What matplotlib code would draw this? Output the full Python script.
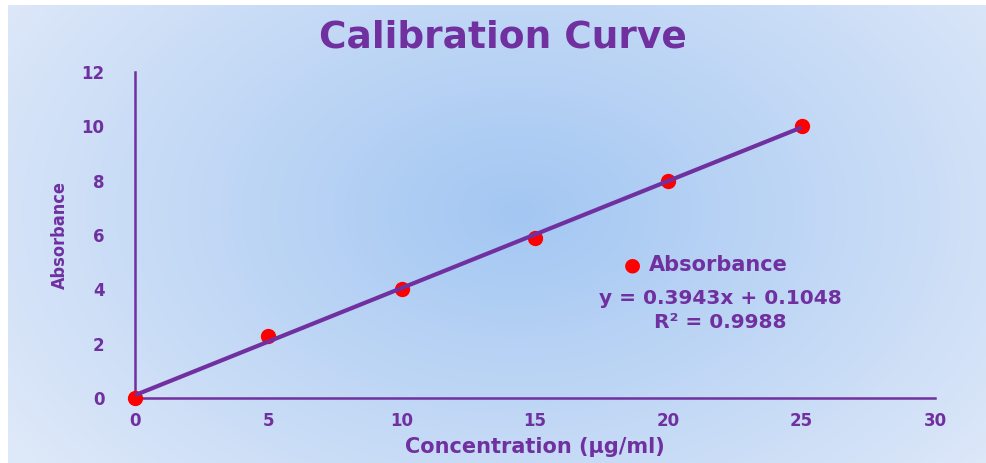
import numpy as np
import matplotlib
matplotlib.use("Agg")
import matplotlib.pyplot as plt

concentration = [0, 5, 10, 15, 20, 25]
absorbance = [0.0, 2.3, 4.0, 5.9, 8.0, 10.0]
slope = 0.3943
intercept = 0.1048
r_squared = 0.9988
x_ticks = [0, 5, 10, 15, 20, 25, 30]
y_ticks = [0, 2, 4, 6, 8, 10, 12]

PURPLE = "#7030a0"
W, H = 986, 463
fig = plt.figure(figsize=(W / 100, H / 100), dpi=100)
fig.patch.set_facecolor("white")

# background radial gradient
bg = fig.add_axes([8 / W, 0, 1 - 8 / W, (H - 5) / H])
bg.set_axis_off()
ny, nx = 200, 400
yy, xx = np.mgrid[0:ny, 0:nx]
cx, cy = nx * 0.52, ny * 0.45
d = np.sqrt(((xx - cx) / (nx * 0.62)) ** 2 + ((yy - cy) / (ny * 0.9)) ** 2)
d = np.clip(d, 0, 1)
c0 = np.array([0.64, 0.78, 0.95])
c1 = np.array([0.87, 0.91, 0.975])
img = c0[None, None, :] * (1 - d[..., None]) + c1[None, None, :] * d[..., None]
bg.imshow(img, aspect="auto", extent=[0, 1, 0, 1], interpolation="bilinear")
bg.set_xlim(0, 1)
bg.set_ylim(0, 1)

ax = fig.add_axes([135 / W, (H - 398) / H, 800 / W, 326 / H])
ax.patch.set_alpha(0)
ax.set_xlim(0, 30)
ax.set_ylim(0, 12)
for s in ["top", "right"]:
    ax.spines[s].set_visible(False)
for s in ["left", "bottom"]:
    ax.spines[s].set_color(PURPLE)
    ax.spines[s].set_linewidth(1.8)
ax.set_xticks(x_ticks)
ax.set_yticks(y_ticks)
ax.tick_params(length=0, pad=10, labelsize=12, labelcolor=PURPLE)
for lab in ax.get_xticklabels() + ax.get_yticklabels():
    lab.set_fontweight("bold")
    lab.set_family("DejaVu Sans")
ax.tick_params(axis="y", pad=22)

ax.plot(concentration, absorbance, "o", color="#ff0000", ms=10, zorder=3,
        clip_on=False)
xf = np.array([concentration[0], concentration[-1]])
ax.plot(xf, slope * xf + intercept, color=PURPLE, lw=3, zorder=4,
        solid_capstyle="butt")

ax.set_xlabel("Concentration (µg/ml)", color=PURPLE, fontsize=15,
              fontweight="bold", family="DejaVu Sans", labelpad=5)
ax.set_ylabel("Absorbance", color=PURPLE, fontsize=13, fontweight="bold",
              family="DejaVu Sans", fontstretch="condensed", labelpad=9)

fig.text(503 / W, 1 - 38 / H, "Calibration Curve", ha="center", va="center",
         color=PURPLE, fontsize=27, fontweight="bold", family="DejaVu Sans")

# legend + equation
fig.text(632 / W, 1 - 265 / H, "●", ha="center", va="center", color="#ff0000",
         fontsize=14, family="DejaVu Sans")
fig.text(649 / W, 1 - 265 / H, "Absorbance", ha="left", va="center",
         color=PURPLE, fontsize=15, fontweight="bold", family="DejaVu Sans")
fig.text(720 / W, 1 - 298 / H, f"y = {slope}x + {intercept}", ha="center",
         va="center", color=PURPLE, fontsize=14.5, fontweight="bold",
         family="DejaVu Sans")
fig.text(720 / W, 1 - 322 / H, f"R² = {r_squared}", ha="center",
         va="center", color=PURPLE, fontsize=14.5, fontweight="bold",
         family="DejaVu Sans")

fig.savefig("out.png", dpi=100)
